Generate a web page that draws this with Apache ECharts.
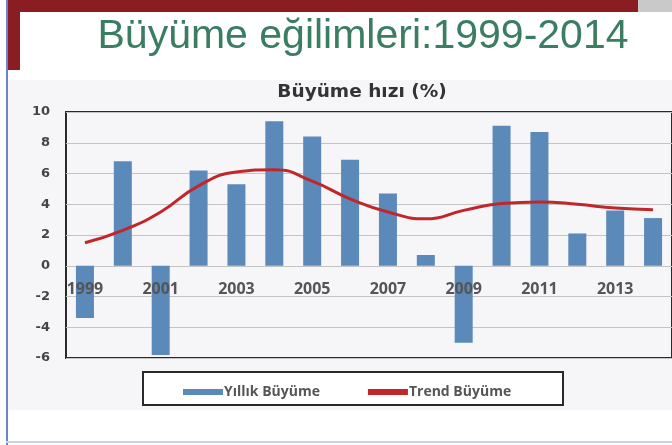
<!DOCTYPE html>
<html>
<head>
<meta charset="utf-8">
<script src="https://cdn.jsdelivr.net/npm/echarts@6/dist/echarts.min.js"></script>
<style>
  html, body { margin: 0; padding: 0; background: #fff; }
  #main { width: 672px; height: 445px; }
</style>
</head>
<body>
<div id="main"></div>
<script>
// years on the x axis
let years = ['1999', '2000', '2001', '2002', '2003', '2004', '2005', '2006',
    '2007', '2008', '2009', '2010', '2011', '2012', '2013', '2014'];
// yearly growth (%), bars
let yillik = [-3.4, 6.8, -5.8, 6.2, 5.3, 9.4, 8.4, 6.9, 4.7, 0.7, -5.0, 9.1, 8.7, 2.1, 3.6, 3.1];
// trend growth (%), smooth line
let trend = [1.5, 2.3, 3.5, 5.2, 6.1, 6.25, 5.5, 4.35, 3.5, 3.05, 3.6, 4.05, 4.15, 4.0, 3.75, 3.65];
let yTicks = [-6, -4, -2, 0, 2, 4, 6, 8, 10];

let myChart = echarts.init(document.getElementById('main'));

let options = {
    backgroundColor: '#ffffff',
    animation: false,
    graphic: [
        // slide background / frame
        { type: 'rect', shape: { x: 8, y: 80, width: 664, height: 330 }, style: { fill: '#f6f6f8' }, z: -10 },
        { type: 'rect', shape: { x: 6, y: 0, width: 2, height: 445 }, style: { fill: '#6a85c8' } },
        { type: 'rect', shape: { x: 6, y: 441, width: 666, height: 2 }, style: { fill: '#c8d2ec' } },
        { type: 'rect', shape: { x: 8, y: 0, width: 630, height: 12 }, style: { fill: '#8a1d22' } },
        { type: 'rect', shape: { x: 638, y: 0, width: 34, height: 12 }, style: { fill: '#c9c9c9' } },
        { type: 'rect', shape: { x: 8, y: 0, width: 12, height: 70 }, style: { fill: '#8a1d22' } },
        // legend box
        { type: 'rect', shape: { x: 143, y: 372, width: 420, height: 33 },
          style: { fill: '#fff', stroke: '#2a2a2a', lineWidth: 2 } }
    ],
    title: [
        {
            text: 'Büyüme eğilimleri:1999-2014',
            left: 358, top: 11, textAlign: 'center',
            textStyle: { fontFamily: 'Liberation Sans', fontSize: 41, fontWeight: 'normal', color: '#3b7d62' }
        },
        {
            text: 'Büyüme hızı (%)',
            left: 357, top: 78, textAlign: 'center',
            textStyle: { fontFamily: 'DejaVu Sans', fontSize: 18.5, fontWeight: 'bold', color: '#333' }
        }
    ],
    legend: {
        left: 178, top: 380,
        itemWidth: 40, itemHeight: 6, itemGap: 48,
        textStyle: { fontFamily: 'Open Sans', fontSize: 14, fontWeight: 'bold', color: '#555', padding: [0, 0, 0, -4] },
        data: [
            { name: 'Yıllık Büyüme', icon: 'rect' },
            { name: 'Trend Büyüme', icon: 'rect' }
        ]
    },
    grid: {
        left: 66, top: 112, right: -4, bottom: 87,
        show: true, borderColor: '#2a2a2a', borderWidth: 2, backgroundColor: 'transparent'
    },
    xAxis: {
        type: 'category',
        data: years,
        offset: -93,
        z: 10,
        axisLine: { show: false },
        axisTick: { show: false },
        axisLabel: {
            interval: 1, margin: 16,
            fontFamily: 'Open Sans', fontSize: 16, fontWeight: 'bold', color: '#555'
        }
    },
    yAxis: {
        type: 'value',
        min: yTicks[0], max: yTicks[yTicks.length - 1], interval: 2,
        axisLine: { show: false },
        axisTick: { show: false },
        splitLine: { lineStyle: { color: '#c4c4c4' } },
        axisLabel: { margin: 16, fontFamily: 'DejaVu Sans', fontSize: 13, fontWeight: 'bold', color: '#444' }
    },
    series: [
        {
            name: 'Yıllık Büyüme',
            type: 'bar',
            data: yillik,
            barWidth: 18,
            itemStyle: { color: '#5b89b9' }
        },
        {
            name: 'Trend Büyüme',
            type: 'line',
            data: trend,
            smooth: true,
            showSymbol: false,
            lineStyle: { color: '#c0272b', width: 3 },
            itemStyle: { color: '#c0272b' },
            z: 5
        }
    ]
};

myChart.setOption(options);
</script>
</body>
</html>
